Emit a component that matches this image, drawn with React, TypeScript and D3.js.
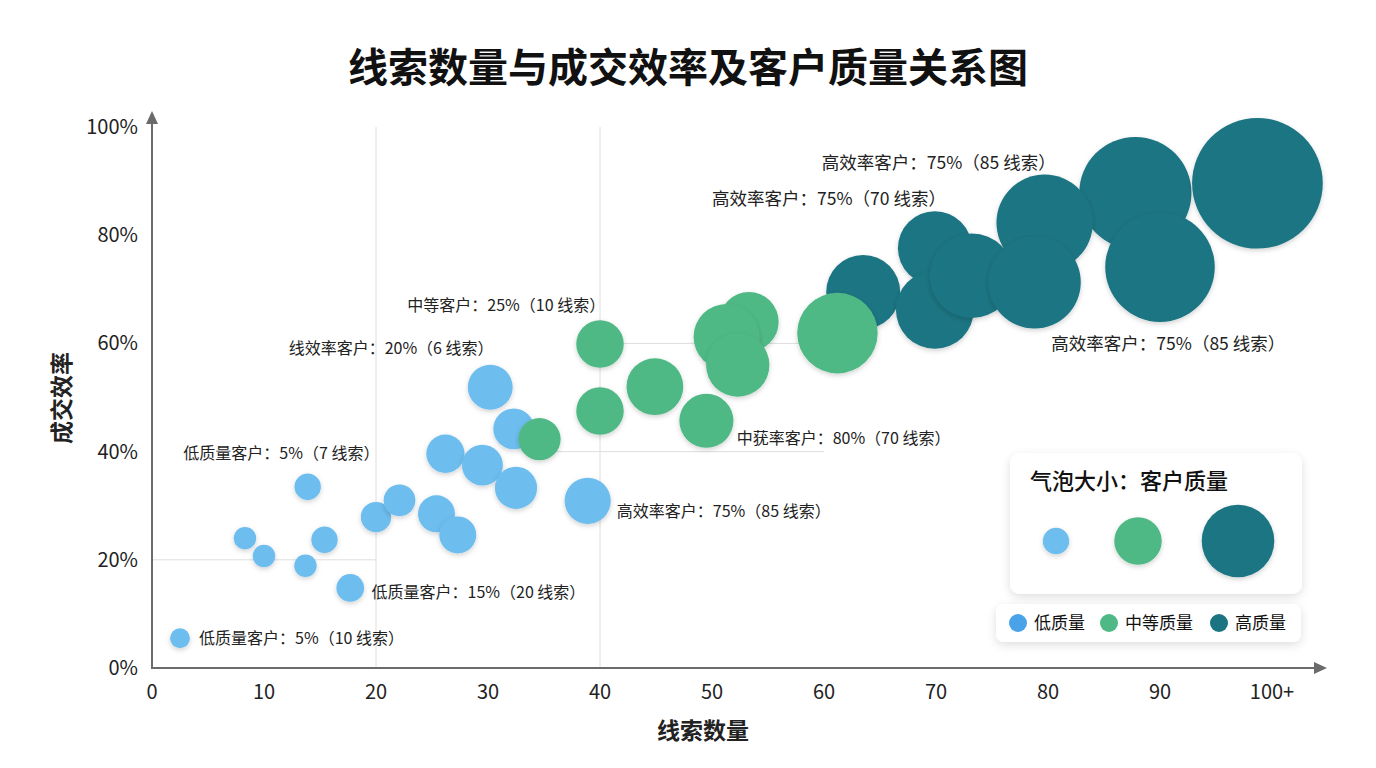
import * as d3 from 'd3';
import { useEffect, useRef } from 'react';

const W = 1376;
const H = 768;

// 低质量 bubbles: lead count, close rate %, quality score
const lowX = [2.5, 8.3, 10, 13.7, 13.9, 15.4, 17.7, 20, 22.1, 25.4, 27.3, 26.2, 29.5, 30.2, 32.3, 32.5, 38.9];
const lowY = [5.5, 24, 20.7, 18.9, 33.5, 23.7, 14.8, 27.9, 31, 28.5, 24.6, 39.6, 37.5, 51.9, 44.2, 33.3, 30.9];
const lowQ = [15, 17, 17, 17, 20, 20, 21, 23, 24, 28, 28, 29, 31, 34, 31, 32, 35];

// 中等质量 bubbles
const midX = [34.6, 40, 40, 44.9, 49.5, 53.3, 51.3, 52.3, 61.2];
const midY = [42.3, 59.9, 47.5, 52, 45.7, 64, 61.2, 56, 61.9];
const midQ = [32, 36, 36, 43, 41, 45, 50, 48, 61];

// 高质量 bubbles
const highX = [87.8, 98.7, 79.7, 69.9, 63.5, 69.9, 73.2, 78.8, 90];
const highY = [87.8, 89.6, 82.3, 77.6, 69.5, 66.2, 72.5, 71.3, 74.1];
const highQ = [85, 99, 73, 56, 56, 59, 64, 70, 83];

const xTicks = [0, 10, 20, 30, 40, 50, 60, 70, 80, 90, 100];
const xTickLabels = ['0', '10', '20', '30', '40', '50', '60', '70', '80', '90', '100+'];
const yTicks = [0, 20, 40, 60, 80, 100];

// annotation texts and anchors (data units)
const noteTexts = [
  '高效率客户：75%（85 线索）',
  '高效率客户：75%（70 线索）',
  '高效率客户：75%（85 线索）',
  '中等客户：25%（10 线索）',
  '线效率客户：20%（6 线索）',
  '中莸率客户：80%（70 线索）',
  '低质量客户：5%（7 线索）',
  '高效率客户：75%（85 线索）',
  '低质量客户：15%（20 线索）',
  '低质量客户：5%（10 线索）',
];
const noteX = [59.8, 50.0, 80.3, 22.8, 12.2, 52.2, 2.8, 41.5, 19.6, 4.2];
const noteY = [93.3, 86.8, 59.9, 67.1, 59.0, 42.5, 39.7, 29.0, 14.0, 5.5];
const noteSize = [17.5, 17.5, 17.5, 16, 16, 16, 16, 16, 16, 16];

const groupNames = ['低质量', '中等质量', '高质量'];
const bubbleColors = ['#6dbdee', '#4fb985', '#1b7482'];
const legendDotColors = ['#4aa3e9', '#4fb985', '#1b7482'];
const legendSizes = [20, 36, 55];

const FONT = '"Noto Sans CJK SC", "Noto Sans", sans-serif';

export default function App() {
  const svgRef = useRef<SVGSVGElement>(null);

  useEffect(() => {
    document.body.style.margin = '0';
    if (svgRef.current == null) {
      return;
    }
    const svg = d3.select(svgRef.current);
    svg.selectAll('*').remove();

    const x = d3.scaleLinear().domain([0, 100]).range([152, 1272]);
    const y = d3.scaleLinear().domain([0, 100]).range([668, 127]);
    const r = d3.scaleLinear().domain([0, 100]).range([0, 66]);

    const defs = svg.append('defs');
    const sh = defs.append('filter').attr('id', 'sh').attr('x', '-30%').attr('y', '-30%').attr('width', '160%').attr('height', '160%');
    sh.append('feDropShadow').attr('dx', 0).attr('dy', 2).attr('stdDeviation', 2.5).attr('flood-color', '#000').attr('flood-opacity', 0.18);
    const bx = defs.append('filter').attr('id', 'box').attr('x', '-20%').attr('y', '-40%').attr('width', '140%').attr('height', '180%');
    bx.append('feDropShadow').attr('dx', 0).attr('dy', 3).attr('stdDeviation', 5).attr('flood-color', '#000').attr('flood-opacity', 0.13);

    svg.append('rect').attr('width', W).attr('height', H).attr('fill', '#fff');

    // title
    svg
      .append('text')
      .attr('x', 688)
      .attr('y', 82)
      .attr('text-anchor', 'middle')
      .style('font', `bold 40px ${FONT}`)
      .attr('fill', '#111')
      .text('线索数量与成交效率及客户质量关系图');

    // grid lines
    const grid = svg.append('g').attr('stroke', '#dedede').attr('stroke-width', 1);
    for (const v of [20, 40]) {
      grid.append('line').attr('x1', x(v)).attr('x2', x(v)).attr('y1', y(0)).attr('y2', y(100));
    }
    grid.append('line').attr('x1', x(0)).attr('x2', x(20)).attr('y1', y(20)).attr('y2', y(20));
    grid.append('line').attr('x1', x(35)).attr('x2', x(60)).attr('y1', y(40)).attr('y2', y(40));
    grid.append('line').attr('x1', x(40)).attr('x2', x(60)).attr('y1', y(60)).attr('y2', y(60));

    // axes
    const axisColor = '#6b6b6b';
    svg.append('line').attr('x1', x(0)).attr('x2', x(0)).attr('y1', y(0) + 1).attr('y2', 120).attr('stroke', axisColor).attr('stroke-width', 2);
    svg.append('path').attr('d', `M${x(0) - 6},${124} L${x(0)},${111} L${x(0) + 6},${124} Z`).attr('fill', axisColor);
    svg.append('line').attr('x1', x(0) - 1).attr('x2', 1318).attr('y1', y(0)).attr('y2', y(0)).attr('stroke', axisColor).attr('stroke-width', 2);
    svg.append('path').attr('d', `M1314,${y(0) - 6} L1327,${y(0)} L1314,${y(0) + 6} Z`).attr('fill', axisColor);

    svg
      .append('g')
      .selectAll('text')
      .data(yTicks)
      .join('text')
      .attr('x', 138)
      .attr('y', (d) => y(d))
      .attr('dy', '0.35em')
      .attr('text-anchor', 'end')
      .style('font', `20px ${FONT}`)
      .attr('fill', '#222')
      .text((d) => `${d}%`);

    svg
      .append('g')
      .selectAll('text')
      .data(xTicks)
      .join('text')
      .attr('x', (d) => x(d))
      .attr('y', 692)
      .attr('dy', '0.35em')
      .attr('text-anchor', 'middle')
      .style('font', `20px ${FONT}`)
      .attr('fill', '#222')
      .text((d, i) => xTickLabels[i]);

    svg
      .append('text')
      .attr('x', 703)
      .attr('y', 731)
      .attr('dy', '0.35em')
      .attr('text-anchor', 'middle')
      .style('font', `600 23px ${FONT}`)
      .attr('fill', '#222')
      .text('线索数量');

    svg
      .append('text')
      .attr('transform', 'translate(62,398) rotate(-90)')
      .attr('dy', '0.35em')
      .attr('text-anchor', 'middle')
      .style('font', `bold 23px ${FONT}`)
      .attr('fill', '#222')
      .text('成交效率');

    // bubbles: high, low, medium order
    const groups = [
      { xs: highX, ys: highY, qs: highQ, color: bubbleColors[2] },
      { xs: lowX, ys: lowY, qs: lowQ, color: bubbleColors[0] },
      { xs: midX, ys: midY, qs: midQ, color: bubbleColors[1] },
    ];
    for (const g of groups) {
      svg
        .append('g')
        .selectAll('circle')
        .data(g.xs.map((v, i) => [v, g.ys[i], g.qs[i]]))
        .join('circle')
        .attr('cx', (d) => x(d[0]))
        .attr('cy', (d) => y(d[1]))
        .attr('r', (d) => r(d[2]))
        .attr('fill', g.color)
        .attr('filter', 'url(#sh)');
    }

    // annotations
    svg
      .append('g')
      .selectAll('text')
      .data(noteTexts)
      .join('text')
      .attr('x', (d, i) => x(noteX[i]))
      .attr('y', (d, i) => y(noteY[i]))
      .attr('dy', '0.35em')
      .style('font', (d, i) => `${noteSize[i]}px ${FONT}`)
      .attr('fill', '#222')
      .text((d) => d);

    // size legend
    const lg = svg.append('g');
    lg.append('rect').attr('x', 1010).attr('y', 453).attr('width', 292).attr('height', 141).attr('rx', 10).attr('fill', '#fff').attr('filter', 'url(#box)');
    lg.append('text').attr('x', 1030).attr('y', 481).attr('dy', '0.35em').style('font', `500 22px ${FONT}`).attr('fill', '#111').text('气泡大小：客户质量');
    const legendCx = [1056, 1138, 1238];
    lg.selectAll('circle')
      .data(legendSizes)
      .join('circle')
      .attr('cx', (d, i) => legendCx[i])
      .attr('cy', 541)
      .attr('r', (d) => r(d))
      .attr('fill', (d, i) => bubbleColors[i])
      .attr('filter', 'url(#sh)');

    // color legend
    const cg = svg.append('g');
    cg.append('rect').attr('x', 996).attr('y', 604).attr('width', 305).attr('height', 38).attr('rx', 8).attr('fill', '#fff').attr('filter', 'url(#box)');
    const dotX = [1018, 1109, 1219];
    groupNames.forEach((name, i) => {
      cg.append('circle').attr('cx', dotX[i]).attr('cy', 623).attr('r', 9).attr('fill', legendDotColors[i]);
      cg.append('text')
        .attr('x', dotX[i] + 16)
        .attr('y', 623)
        .attr('dy', '0.35em')
        .style('font', `17px ${FONT}`)
        .attr('fill', '#111')
        .text(name);
    });
  }, []);

  return <svg ref={svgRef} width={W} height={H} style={{ display: 'block' }}></svg>;
}
